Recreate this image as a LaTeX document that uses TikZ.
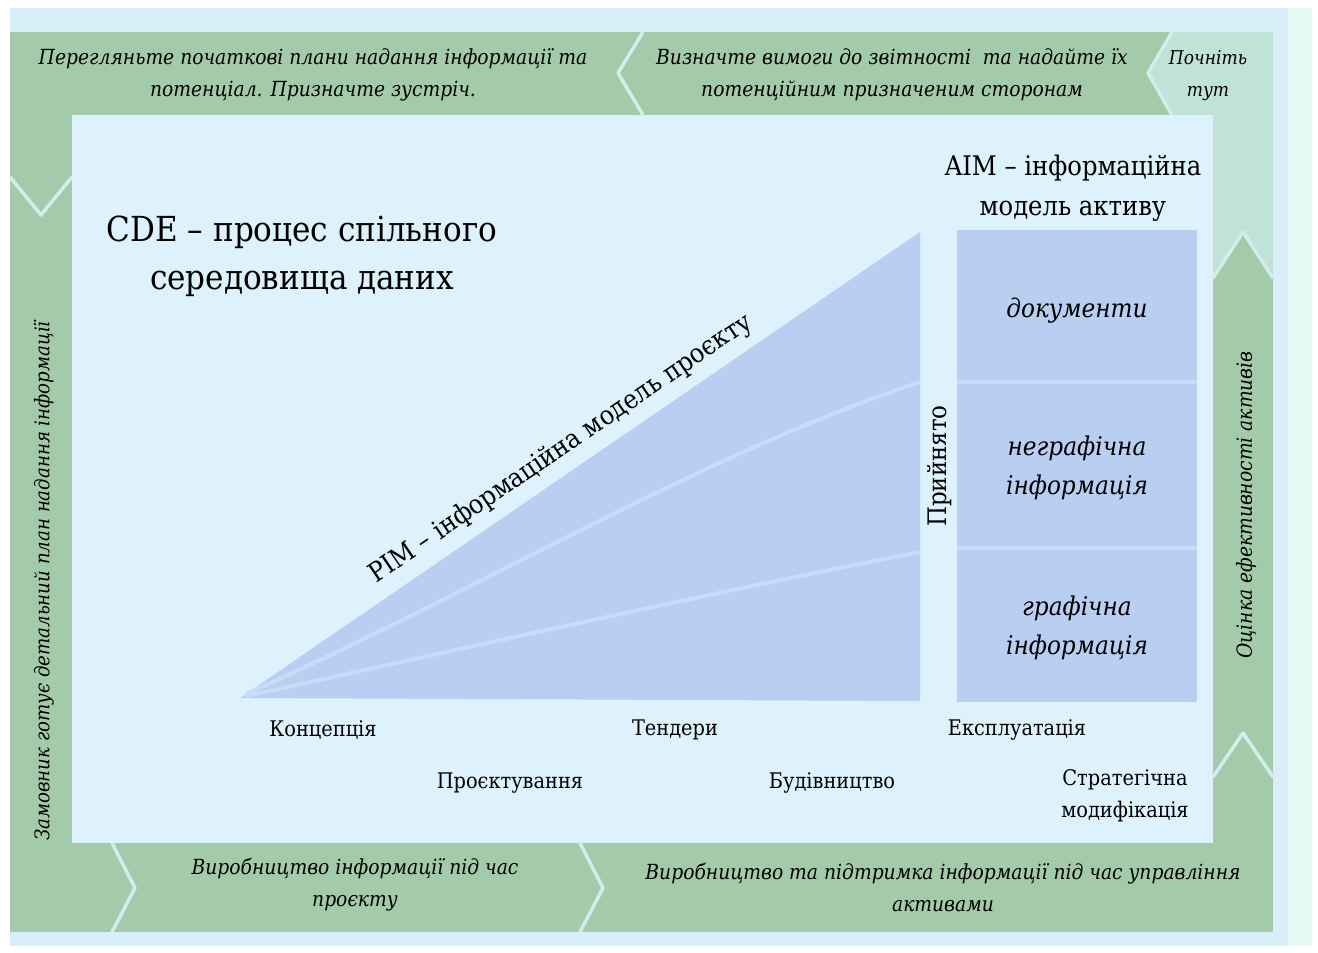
\documentclass[tikz,border=0pt]{standalone}
\usepackage{fontspec}
\setmainfont{DejaVu Serif}[FakeStretch=0.9]
\definecolor{bgc}{HTML}{D8EEF9}
\definecolor{edgec}{HTML}{E6FAF6}
\definecolor{panelc}{HTML}{DDF2FC}
\definecolor{bandc}{HTML}{A3CBA9}
\definecolor{tealc}{HTML}{C1E2D6}
\definecolor{tric}{HTML}{B8CFF1}
\definecolor{stripec}{HTML}{C6DCF7}
\definecolor{chevc}{HTML}{D4ECEC}
\begin{document}
\begin{tikzpicture}[x=1pt,y=-1pt,
  framelbl/.style={align=center,text=black,inner sep=0pt,font=\fontsize{20.8}{32}\selectfont\itshape},
  stagelbl/.style={align=center,text=black,inner sep=0pt,font=\fontsize{21.5}{32}\selectfont},
  boxlbl/.style={align=center,text=black,inner sep=0pt,font=\fontsize{25.8}{39}\selectfont\itshape},
  titlelbl/.style={align=center,text=black,inner sep=0pt},
  chevline/.style={draw=chevc,line width=3.5pt,line join=round},
  stripeline/.style={draw=stripec,line width=4pt}]
\useasboundingbox (0,0) rectangle (1318,953);
\fill[white] (0,0) rectangle (1318,953);
\fill[bgc] (10,8) rectangle (1312,946);
\fill[edgec] (1288,8) rectangle (1312,946);
% frame bands
\fill[bandc] (10,32) rectangle (1273,115);
\fill[bandc] (10,32) rectangle (72,932);
\fill[bandc] (10,843) rectangle (1273,932);
\fill[bandc] (1213,32) rectangle (1273,932);
\fill[tealc] (1148,73) -- (1172,32) -- (1273,32) -- (1273,278) -- (1243,232) -- (1213,278) -- (1213,115) -- (1172,115) -- cycle;
% inner panel
\fill[panelc] (72,115) rectangle (1213,843);
% chevrons
\draw[chevline] (643,32) -- (618,73) -- (643,115);
\draw[chevline] (1172,32) -- (1148,73) -- (1172,115);
\draw[chevline] (10,177) -- (41,215) -- (72,177);
\draw[chevline] (1213,278) -- (1243,232) -- (1273,278);
\draw[chevline] (1213,777) -- (1243,733) -- (1273,777);
\draw[chevline] (112,843) -- (135,888) -- (112,932);
\draw[chevline] (580,843) -- (603,888) -- (580,932);
% PIM triangle
\fill[tric] (240,698) -- (920,232) -- (920,701) -- cycle;
\draw[stripeline] (246,694) .. controls (480,590) and (700,455) .. (920,382);
\draw[stripeline] (246,696) .. controls (480,645) and (700,595) .. (920,552);
% AIM box
\fill[tric] (957,230) rectangle (1197,702);
\draw[stripeline] (957,382) -- (1197,382);
\draw[stripeline] (957,548) -- (1197,548);
% frame labels
\node[framelbl] (t1) at (313,75) {Перегляньте початкові плани надання інформації та\\потенціал. Призначте зустріч.};
\node[framelbl] (t2) at (892,75) {Визначте вимоги до звітності\ \ та надайте їх\\потенційним призначеним сторонам};
\node[framelbl,font=\fontsize{19}{32}\selectfont\itshape] (t3) at (1208,76) {Почніть\\тут};
\node[framelbl,font=\fontsize{20.2}{32}\selectfont\itshape,rotate=90] (l1) at (44,581) {Замовник готує детальний план надання інформації};
\node[framelbl,rotate=90] (r1) at (1246,505) {Оцінка ефективності активів};
\node[framelbl] (b1) at (355,885) {Виробництво інформації під час\\проєкту};
\node[framelbl] (b2) at (943,887) {Виробництво та підтримка інформації під час управління\\активами};
% titles
\node[titlelbl,font=\fontsize{34.5}{48}\selectfont] (cde) at (302,256) {CDE – процес спільного\\середовища даних};
\node[titlelbl,font=\fontsize{27}{40}\selectfont] (aim) at (1073,188) {AIM – інформаційна\\модель активу};
\node[titlelbl,font=\fontsize{26.5}{32}\selectfont,rotate=34.3] (pim) at (561,449) {PIM – інформаційна модель проєкту};
\node[titlelbl,font=\fontsize{25.5}{32}\selectfont,rotate=90] (acc) at (940,466) {Прийнято};
% AIM box labels
\node[boxlbl] (doc) at (1077,311) {документи};
\node[boxlbl] (ng) at (1077,468) {неграфічна\\інформація};
\node[boxlbl] (gr) at (1077,628) {графічна\\інформація};
% stages
\node[stagelbl] (s1) at (323,730) {Концепція};
\node[stagelbl] (s2) at (510,783) {Проєктування};
\node[stagelbl] (s3) at (675,730) {Тендери};
\node[stagelbl] (s4) at (832,783) {Будівництво};
\node[stagelbl] (s5) at (1017,730) {Експлуатація};
\node[stagelbl] (s6) at (1125,796) {Стратегічна\\модифікація};
\end{tikzpicture}
\end{document}
